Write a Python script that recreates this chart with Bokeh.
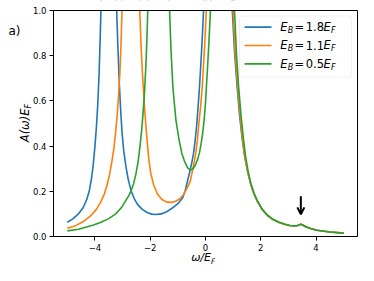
import math
from bokeh.plotting import figure
from bokeh.models import (Label, BoxAnnotation, Arrow, OpenHead, FixedTicker, Range1d, LinearAxis)
from bokeh.embed import file_html
from bokeh.resources import INLINE

# ---------------- data ----------------
series_names = ["1.8", "1.1", "0.5"]
colors = ["#1f77b4", "#ff7f0e", "#2ca02c"]

blue_x = [-5.0, -4.8, -4.6, -4.43, -4.3, -4.2, -4.12, -4.06, -4.0, -3.95, -3.9, -3.85, -3.81, -3.78,
          -3.72, -3.5, -3.28, -3.22, -3.17, -3.12, -3.07, -3.02, -2.96, -2.88, -2.8, -2.7, -2.58,
          -2.46, -2.3, -2.11, -1.95, -1.8, -1.6, -1.4, -1.2, -1.0, -0.83, -0.74, -0.66, -0.56,
          -0.49, -0.43, -0.37, -0.32, -0.27, -0.22, -0.17, -0.12, -0.07, 0.0, 0.45, 0.9, 0.97,
          1.05, 1.14, 1.23, 1.32, 1.41, 1.52, 1.63, 1.75, 1.88, 2.05, 2.25, 2.45, 2.65, 2.87,
          3.05, 3.2, 3.33, 3.45, 3.53, 3.63, 3.8, 4.03, 4.5, 5.0]
blue_y = [0.063, 0.078, 0.1, 0.127, 0.163, 0.205, 0.26, 0.32, 0.4, 0.48, 0.58, 0.72, 0.88, 1.02,
          1.35, 3.5, 1.35, 1.02, 0.84, 0.68, 0.56, 0.46, 0.38, 0.31, 0.255, 0.205, 0.168,
          0.142, 0.121, 0.106, 0.099, 0.097, 0.1, 0.11, 0.126, 0.145, 0.17, 0.2, 0.24, 0.292,
          0.33, 0.37, 0.43, 0.49, 0.57, 0.657, 0.76, 0.87, 1.0, 1.35, 3.5, 1.35, 1.0,
          0.82, 0.67, 0.54, 0.44, 0.36, 0.29, 0.235, 0.19, 0.155, 0.12, 0.093, 0.075, 0.063, 0.054,
          0.049, 0.047, 0.049, 0.054, 0.05, 0.043, 0.035, 0.028, 0.02, 0.015]

orange_x = [-5.0, -4.7, -4.43, -4.15, -3.95, -3.8, -3.67, -3.56, -3.47, -3.39, -3.32, -3.26, -3.2,
            -3.15, -3.1, -3.06, -3.02, -2.96, -2.7, -2.44, -2.38, -2.33, -2.28, -2.23, -2.17,
            -2.11, -2.05, -1.98, -1.88, -1.75, -1.59, -1.4, -1.24, -1.1, -0.95, -0.8, -0.66,
            -0.55, -0.47, -0.41, -0.35, -0.29, -0.24, -0.18, -0.12, -0.07, -0.02, 0.03, 0.08,
            0.52, 0.95, 1.0, 1.07, 1.16, 1.25, 1.33, 1.42, 1.52, 1.63, 1.75, 1.88, 2.05, 2.25,
            2.45, 2.65, 2.87, 3.05, 3.2, 3.33, 3.45, 3.53, 3.63, 3.8, 4.03, 4.5, 5.0]
orange_y = [0.036, 0.048, 0.065, 0.092, 0.12, 0.15, 0.185, 0.228, 0.275, 0.33, 0.385, 0.45, 0.53,
            0.615, 0.72, 0.84, 1.0, 1.3, 3.5, 1.3, 1.0, 0.84, 0.72, 0.615, 0.51,
            0.42, 0.34, 0.28, 0.23, 0.19, 0.165, 0.152, 0.151, 0.155, 0.165, 0.185, 0.215,
            0.245, 0.292, 0.33, 0.37, 0.43, 0.5, 0.57, 0.657, 0.76, 0.87, 1.0, 1.3,
            3.5, 1.3, 1.0, 0.82, 0.67, 0.54, 0.44, 0.355, 0.29, 0.235, 0.19, 0.155, 0.12, 0.093,
            0.075, 0.063, 0.054, 0.049, 0.047, 0.049, 0.054, 0.05, 0.043, 0.035, 0.028, 0.02, 0.015]

green_x = [-5.0, -4.6, -4.08, -3.8, -3.5, -3.25, -3.04, -2.88, -2.78, -2.7, -2.6, -2.52, -2.44,
           -2.37, -2.31, -2.26, -2.21, -2.16, -2.12, -2.09, -2.02, -1.7, -1.38, -1.3, -1.25,
           -1.18, -1.12, -1.07, -0.96, -0.86, -0.75, -0.65, -0.55, -0.45, -0.37, -0.29, -0.22,
           -0.16, -0.11, -0.05, 0.0, 0.03, 0.07, 0.12, 0.18, 0.25, 0.6, 0.99, 1.05, 1.12, 1.2,
           1.29, 1.37, 1.45, 1.54, 1.64, 1.76, 1.89, 2.05, 2.25, 2.45, 2.65, 2.87, 3.05, 3.2,
           3.33, 3.45, 3.53, 3.63, 3.8, 4.03, 4.5, 5.0]
green_y = [0.025, 0.032, 0.05, 0.062, 0.079, 0.1, 0.128, 0.16, 0.18, 0.2, 0.235, 0.275, 0.33,
           0.4, 0.47, 0.545, 0.63, 0.75, 0.87, 1.0, 1.3, 3.5, 1.3, 1.0, 0.83,
           0.66, 0.58, 0.515, 0.43, 0.37, 0.33, 0.305, 0.293, 0.3, 0.315, 0.34, 0.37,
           0.41, 0.45, 0.515, 0.59, 0.657, 0.74, 0.85, 1.0, 1.3, 3.5, 1.3, 1.0, 0.81, 0.66,
           0.53, 0.435, 0.355, 0.29, 0.235, 0.19, 0.155, 0.12, 0.093, 0.075, 0.063, 0.054, 0.049, 0.047,
           0.049, 0.054, 0.05, 0.043, 0.035, 0.028, 0.02, 0.015]

x_ticks = [-4, -2, 0, 2, 4]
x_tick_labels = ["\u22124", "\u22122", "0", "2", "4"]
y_ticks = [0.0, 0.2, 0.4, 0.6, 0.8, 1.0]
y_tick_labels = ["0.0", "0.2", "0.4", "0.6", "0.8", "1.0"]
x_lim = (-5.5, 5.5)
y_lim = (0.0, 1.0)

arrow_x = 3.45
arrow_y_top = 0.178
arrow_y_tip = 0.098

# ---------------- layout: the frame fills the canvas, axes sit at fixed data locations ----------------
W, H = 358, 265
FL, FR, FT, FB = 53.0, 357.0, 10.0, 236.0   # where the axes box sits on the canvas
KX = (FR - FL) / (x_lim[1] - x_lim[0])     # px per x unit
KY = (FB - FT) / (y_lim[1] - y_lim[0])     # px per y unit


def X(px):
    return x_lim[0] + (px - FL) / KX


def Y(py):
    return y_lim[0] + (FB - py) / KY


FONT = "DejaVu Sans"
MID = 0.37   # distance from baseline to the middle of the text box, in em


def add_text(text, px, py_base, fs, style="normal", align="left", rotated=False):
    """Place a text with its baseline at canvas pixel (px, py_base)."""
    if rotated:
        x, y, ang = X(px - MID * fs), Y(py_base), math.pi / 2
    else:
        x, y, ang = X(px), Y(py_base - MID * fs), 0.0
    p.add_layout(Label(x=x, y=y, text=text, text_font=FONT, text_font_size=f"{fs}px",
                       text_font_style=style, text_align=align, text_baseline="middle",
                       text_color="black", angle=ang))


p = figure(width=W, height=H, x_range=Range1d(X(0), X(W)), y_range=Range1d(Y(H), Y(0)),
           output_backend="svg", toolbar_location=None,
           min_border_left=0, min_border_right=0, min_border_top=0, min_border_bottom=0)
p.background_fill_color = "white"
p.border_fill_color = "white"
p.outline_line_color = None
p.xgrid.visible = False
p.ygrid.visible = False

xa = p.xaxis[0]
ya = p.yaxis[0]
xa.fixed_location = y_lim[0]
xa.bounds = x_lim
ya.fixed_location = x_lim[0]
ya.bounds = y_lim
for ax in (xa, ya):
    ax.axis_line_color = "black"
    ax.axis_line_width = 1
    ax.major_tick_line_color = "black"
    ax.major_tick_line_width = 1
    ax.major_tick_in = 0
    ax.major_tick_out = 4
    ax.minor_tick_line_color = None
    ax.major_label_text_font = FONT
    ax.major_label_text_font_size = "8.5px"
    ax.major_label_text_color = "black"
    ax.major_label_standoff = 3
xa.ticker = FixedTicker(ticks=x_ticks)
xa.major_label_overrides = {t: l for t, l in zip(x_ticks, x_tick_labels)}
ya.ticker = FixedTicker(ticks=y_ticks)
ya.major_label_overrides = {t: l for t, l in zip(y_ticks, y_tick_labels)}

# ---------------- legend box (under the glyphs) ----------------
LB_L, LB_R, LB_T, LB_B = 239.0, 351.0, 15.5, 76.5
p.add_layout(BoxAnnotation(left=X(LB_L), right=X(LB_R), top=Y(LB_T), bottom=Y(LB_B),
                           fill_color="white", fill_alpha=0.8, line_color="#cccccc",
                           line_width=1, border_radius=3, level="underlay"))

for xs, ys, c in zip([blue_x, orange_x, green_x], [blue_y, orange_y, green_y], colors):
    p.line(xs, ys, line_color=c, line_width=1.6)

# hide what lies above the top of the axes box (curves are clipped at y = 1 there)
p.add_layout(BoxAnnotation(bottom=Y(FT - 0.4), top=Y(-20), left=x_lim[0], right=x_lim[1],
                           fill_color="white", fill_alpha=1.0,
                           line_color=None, level="annotation"))

# top and right spines (drawn after the mask)
top_ax = LinearAxis(fixed_location=y_lim[1], bounds=x_lim, ticker=FixedTicker(ticks=[]),
                    axis_line_color="black", axis_line_width=1,
                    major_tick_line_color=None, minor_tick_line_color=None)
right_ax = LinearAxis(fixed_location=x_lim[1], bounds=y_lim, ticker=FixedTicker(ticks=[]),
                      axis_line_color="black", axis_line_width=1,
                      major_tick_line_color=None, minor_tick_line_color=None)
p.add_layout(top_ax, "above")
p.add_layout(right_ax, "right")

# arrow marking the bump
p.add_layout(Arrow(end=OpenHead(size=7, line_width=2, line_color="black"),
                   x_start=arrow_x, y_start=arrow_y_top, x_end=arrow_x, y_end=arrow_y_tip,
                   line_width=2, line_color="black"))

# ---------------- legend entries (hand built for subscripts) ----------------
row_centers = [LB_T + 11.1, LB_T + 29.5, LB_T + 47.9]
for name, c, rc in zip(series_names, colors, row_centers):
    p.segment(x0=[X(LB_L + 5.1)], y0=[Y(rc)], x1=[X(LB_L + 32.0)], y1=[Y(rc)],
              line_color=c, line_width=1.6)
    base = rc + 4.0
    add_text("E", LB_L + 40.8, base, 11.5, "italic")
    add_text("B", LB_L + 48.3, base + 2.4, 8, "italic")
    add_text("=", LB_L + 55.0, base, 11.5)
    add_text(name, LB_L + 66.2, base, 11.5)
    add_text("E", LB_L + 84.0, base, 11.5, "italic")
    add_text("F", LB_L + 91.6, base + 2.4, 8, "italic")

# ---------------- axis titles and panel tag ----------------
XT_END = FL + (0.2 - x_lim[0]) * KX
add_text("\u03c9/E", XT_END, FB + 25.5, 11, "italic", align="right")
add_text("F", XT_END, FB + 27.8, 7.7, "italic")

YL_END = (FT + FB) / 2 - 15.0
add_text("A(\u03c9)E", 28.5, YL_END, 11.5, "italic", align="right", rotated=True)
add_text("F", 31.0, YL_END, 8, "italic", rotated=True)

add_text("a)", 8.0, 35.0, 12)

open("out.html", "w").write(file_html(p, INLINE))
